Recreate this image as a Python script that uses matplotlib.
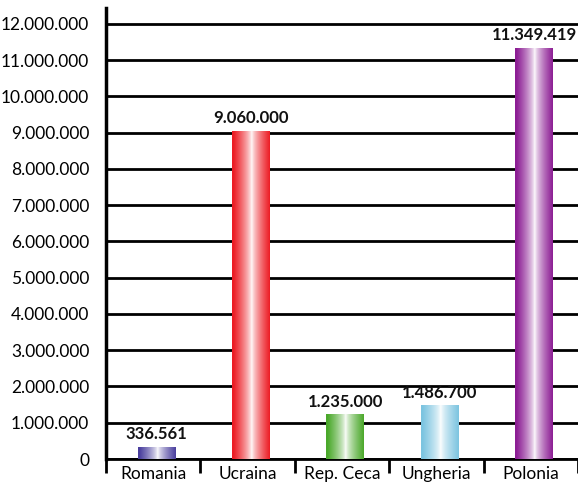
import matplotlib
matplotlib.use("Agg")
import matplotlib.pyplot as plt
import numpy as np
from matplotlib.colors import to_rgb
from matplotlib.ticker import FixedLocator, FuncFormatter

categories = ["Romania", "Ucraina", "Rep. Ceca", "Ungheria", "Polonia"]
values = [336561, 9060000, 1235000, 1486700, 11349419]
value_labels = ["336.561", "9.060.000", "1.235.000", "1.486.700", "11.349.419"]
colors = ["#4a3f9e", "#ec1c24", "#4aa82a", "#7cc4e0", "#8c1d94"]

plt.rcParams['font.family'] = ['Lato', 'DejaVu Sans']

fig = plt.figure(figsize=(5.78, 4.9), dpi=100)
ax = fig.add_axes([106/578, 31/490, 472/578, 451/490])

x = np.arange(len(categories))
offset = 0.035
width = 0.4
ax.set_xlim(-0.5, len(categories) - 0.5)
ax.set_ylim(0, 12440000)

ax.yaxis.set_major_locator(FixedLocator(np.arange(0, 12000001, 1000000)))
ax.yaxis.set_major_formatter(FuncFormatter(lambda v, p: f"{int(v):,}".replace(",", ".")))
ax.grid(axis='y', color='black', linewidth=2)
ax.set_axisbelow(True)

t = np.linspace(0, 1, 256)
prof = np.clip(np.abs(t - 0.52) / 0.48, 0, 1) ** 0.7

bars = ax.bar(x + offset, values, width=width, color='none', edgecolor='none', zorder=3)
for b, c in zip(bars, colors):
    rgb = np.array(to_rgb(c))
    img = (1 - prof[:, None]) * np.ones(3) + prof[:, None] * rgb
    img = img[None, :, :]
    x0, y0 = b.get_x(), b.get_y()
    im = ax.imshow(img, extent=[x0, x0 + b.get_width(), y0, y0 + b.get_height()],
                   aspect='auto', zorder=3, interpolation='bilinear')
    im.set_clip_path(b)

for xi, v, lab in zip(x + offset, values, value_labels):
    ax.text(xi, v + 120000, lab, ha='center', va='bottom', fontsize=12,
            fontweight='bold', color='#111111', zorder=4)

ax.set_xticks(x)
ax.set_xticklabels(categories, fontsize=12.5)
ax.tick_params(axis='x', which='major', length=0, pad=5)
ax.set_xticks(np.arange(-0.5, len(categories) + 0.5, 1), minor=True)
ax.tick_params(axis='x', which='minor', length=10, width=2, direction='out', color='black')
ax.tick_params(axis='y', length=0, pad=12, labelsize=12.5)

for s in ['top', 'right']:
    ax.spines[s].set_visible(False)
ax.spines['left'].set_linewidth(2.5)
ax.spines['bottom'].set_linewidth(2)

fig.savefig("out.png", dpi=100)
